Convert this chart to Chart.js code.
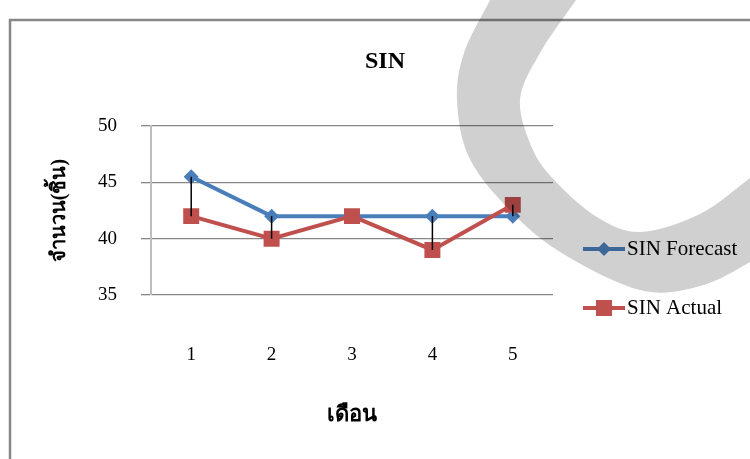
<!DOCTYPE html>
<html>
<head>
<meta charset="utf-8">
<script src="https://cdn.jsdelivr.net/npm/chart.js@4/dist/chart.umd.min.js"></script>
<style>
  html, body { margin: 0; padding: 0; background: #ffffff; }
  #wrap { width: 750px; height: 459px; position: relative; }
</style>
</head>
<body>
<div id="wrap"><canvas id="c" width="750" height="459"></canvas></div>
<script>
// Months and the two series
const months = ['1', '2', '3', '4', '5'];
const forecastValues = [45.5, 42, 42, 42, 42];
const actualValues = [42, 40, 42, 39, 43];
const yTicks = [35, 40, 45, 50];

const chartTitle = 'SIN';
const xTitle = 'เดือน';
const yTitle = 'จำนวน(ชิ้น)';
const forecastName = 'SIN Forecast';
const actualName = 'SIN Actual';

const SERIF = "'Liberation Serif', 'Times New Roman', 'DejaVu Serif', serif";
const BLUE = '#4a7ebb';
const RED = '#c0504d';

// Outer frame, white page and title
const framePlugin = {
  id: 'frame',
  beforeDraw(chart) {
    const ctx = chart.ctx;
    ctx.save();
    ctx.fillStyle = '#ffffff';
    ctx.fillRect(0, 0, chart.width, chart.height);
    ctx.strokeStyle = '#878787';
    ctx.lineWidth = 2.5;
    ctx.beginPath();
    ctx.moveTo(10, chart.height + 5);
    ctx.lineTo(10, 20);
    ctx.lineTo(chart.width + 5, 20);
    ctx.stroke();
    ctx.fillStyle = '#000000';
    ctx.font = "bold 24px " + SERIF;
    ctx.textAlign = 'center';
    ctx.textBaseline = 'middle';
    ctx.fillText(chartTitle, 385, 62);
    ctx.restore();
  }
};

// Vertical lines joining forecast and actual in each month
const hiLoPlugin = {
  id: 'hiLo',
  afterDatasetsDraw(chart) {
    const ctx = chart.ctx;
    const xs = chart.scales.x, ys = chart.scales.y;
    ctx.save();
    ctx.strokeStyle = '#000000';
    ctx.lineWidth = 1.5;
    months.forEach((m, i) => {
      const x = xs.getPixelForValue(i);
      ctx.beginPath();
      ctx.moveTo(x, ys.getPixelForValue(forecastValues[i]));
      ctx.lineTo(x, ys.getPixelForValue(actualValues[i]));
      ctx.stroke();
    });
    ctx.restore();
  }
};

// Legend on the right: line sample with its marker, then the name
const legendPlugin = {
  id: 'sideLegend',
  afterDraw(chart) {
    const ctx = chart.ctx;
    const rows = [
      { ds: chart.data.datasets[0], y: 249 },
      { ds: chart.data.datasets[1], y: 308 }
    ];
    ctx.save();
    rows.forEach(r => {
      const ds = r.ds;
      ctx.strokeStyle = ds.borderColor;
      ctx.lineWidth = ds.borderWidth;
      ctx.beginPath();
      ctx.moveTo(583, r.y);
      ctx.lineTo(625, r.y);
      ctx.stroke();
      ctx.fillStyle = ds.pointBackgroundColor;
      ctx.beginPath();
      if (ds.pointStyle === 'rectRot') {
        const s = 7;
        ctx.moveTo(604, r.y - s); ctx.lineTo(604 + s, r.y);
        ctx.lineTo(604, r.y + s); ctx.lineTo(604 - s, r.y);
        ctx.closePath();
      } else {
        ctx.rect(604 - 8, r.y - 8, 16, 16);
      }
      ctx.fill();
      ctx.fillStyle = '#000000';
      ctx.font = "21px " + SERIF;
      ctx.textAlign = 'left';
      ctx.textBaseline = 'middle';
      ctx.fillText(ds.label, 627, r.y);
    });
    ctx.restore();
  }
};

// Smooth closed band (grey curved stroke lying over the page)
function catmull(ctx, pts, first) {
  if (first) ctx.moveTo(pts[0][0], pts[0][1]); else ctx.lineTo(pts[0][0], pts[0][1]);
  for (let i = 0; i < pts.length - 1; i++) {
    const p0 = pts[Math.max(0, i - 1)], p1 = pts[i], p2 = pts[i + 1], p3 = pts[Math.min(pts.length - 1, i + 2)];
    ctx.bezierCurveTo(
      p1[0] + (p2[0] - p0[0]) / 6, p1[1] + (p2[1] - p0[1]) / 6,
      p2[0] - (p3[0] - p1[0]) / 6, p2[1] - (p3[1] - p1[1]) / 6,
      p2[0], p2[1]);
  }
}
const bandOuter = [[495,-12],[490,0],[464,53],[457,100],[468,155],[503,203],[557,250],[640,290],[700,286],[750,262],[780,240]];
const bandInner = [[584,-12],[576,0],[540,53],[520,100],[533,150],[557,183],[597,217],[640,232],[700,214],[750,178],[780,155]];
const bandPlugin = {
  id: 'band',
  afterDraw(chart) {
    const ctx = chart.ctx;
    ctx.save();
    ctx.globalCompositeOperation = 'multiply';
    ctx.fillStyle = '#d0d0d0';
    ctx.beginPath();
    catmull(ctx, bandOuter, true);
    catmull(ctx, bandInner.slice().reverse(), false);
    ctx.closePath();
    ctx.fill();
    ctx.restore();
  }
};

new Chart(document.getElementById('c'), {
  type: 'line',
  data: {
    labels: months,
    datasets: [
      {
        label: forecastName,
        data: forecastValues,
        borderColor: BLUE,
        backgroundColor: BLUE,
        pointBackgroundColor: BLUE,
        pointBorderColor: BLUE,
        borderWidth: 4,
        pointStyle: 'rectRot',
        pointRadius: 7.5,
        pointBorderWidth: 0,
        tension: 0,
        order: 1
      },
      {
        label: actualName,
        data: actualValues,
        borderColor: RED,
        backgroundColor: RED,
        pointBackgroundColor: RED,
        pointBorderColor: RED,
        borderWidth: 4,
        pointStyle: 'rect',
        pointRadius: 11.3,
        pointBorderWidth: 0,
        tension: 0,
        order: 0
      }
    ]
  },
  options: {
    responsive: false,
    animation: false,
    events: [],
    layout: { padding: { left: 0, top: 126, right: 197, bottom: 0 } },
    plugins: {
      legend: { display: false },
      title: { display: false },
      tooltip: { enabled: false }
    },
    scales: {
      x: {
        type: 'category',
        offset: true,
        grid: { display: false, drawTicks: false },
        border: { display: false },
        ticks: { color: '#000000', font: { family: SERIF, size: 19 }, padding: 49, maxRotation: 0 },
        title: { display: true, text: xTitle, color: '#000000', font: { family: SERIF, size: 22, weight: 'bold' }, padding: { top: 0, bottom: 30 } },
        afterFit(scale) { scale.height = 459 - 295; }
      },
      y: {
        min: 35,
        max: 50,
        afterBuildTicks(scale) { scale.ticks = yTicks.map(v => ({ value: v })); },
        grid: { color: '#878787', lineWidth: 1.3, drawTicks: true, tickLength: 10 },
        border: { display: true, color: '#bdbdbd', width: 2 },
        ticks: { color: '#000000', font: { family: SERIF, size: 19 }, padding: 24 },
        title: { display: true, text: yTitle, color: '#000000', font: { family: SERIF, size: 20, weight: 'bold' }, padding: { top: 48, bottom: 0 } },
        afterFit(scale) { scale.width = 151; }
      }
    }
  },
  plugins: [framePlugin, hiLoPlugin, legendPlugin, bandPlugin]
});
</script>
</body>
</html>
